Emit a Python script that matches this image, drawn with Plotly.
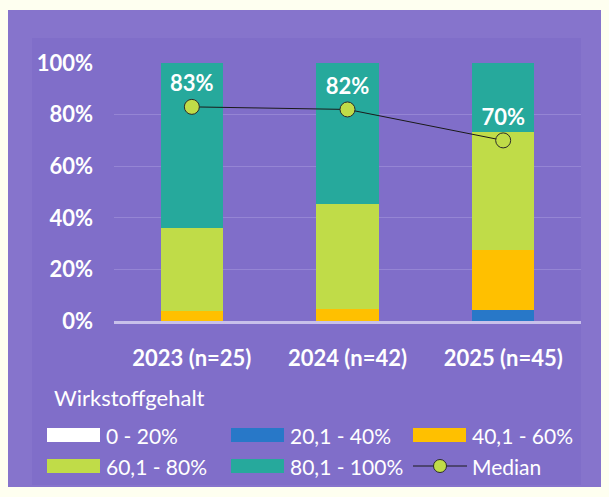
import plotly.graph_objects as go

# ---- data ----
categories = ["2023 (n=25)", "2024 (n=42)", "2025 (n=45)"]
series_names = ["0 - 20%", "20,1 - 40%", "40,1 - 60%", "60,1 - 80%", "80,1 - 100%"]
share_0_20 = [0, 0, 0]
share_20_40 = [0, 0, 4.4]
share_40_60 = [4.0, 4.8, 23.1]
share_60_80 = [32.0, 40.5, 45.9]
share_80_100 = [64.0, 54.7, 26.6]
median_values = [83, 82, 70]
median_labels = ["83%", "82%", "70%"]
y_ticks = [0, 20, 40, 60, 80, 100]
y_tick_labels = ["0%", "20%", "40%", "60%", "80%", "100%"]
legend_title = "Wirkstoffgehalt"
median_name = "Median"

series_values = [share_0_20, share_20_40, share_40_60, share_60_80, share_80_100]
colors = ["#FFFFFF", "#2878C8", "#FFC000", "#C0DC48", "#26A99C"]
marker_color = "#C0DC48"

OFF = 8  # page body margin: screen coordinate = figure coordinate + 8
W, H = 609, 497
L = 114 - OFF
T = 63 - OFF
R = W - (581 - OFF)
B = H - (321 - OFF)
PW, PH = W - L - R, H - T - B
FONT = "Lato"


def px(x):  # screen x -> paper
    return (x - OFF - L) / PW


def py(y):  # screen y -> paper
    return (H - B - (y - OFF)) / PH


fig = go.Figure()

for name, vals, col in zip(series_names, series_values, colors):
    fig.add_trace(go.Bar(
        x=categories, y=vals, name=name, width=0.4,
        marker=dict(color=col, line=dict(width=0)),
        showlegend=False,
    ))

fig.add_trace(go.Scatter(
    x=categories, y=median_values, name=median_name,
    mode="lines+markers+text", text=median_labels, textposition="top center",
    textfont=dict(family=FONT, size=22, color="white", weight="bold"),
    line=dict(color="#1a1a1a", width=1),
    marker=dict(size=15, color=marker_color, line=dict(color="#2a2a2a", width=1)),
    showlegend=False, cliponaxis=False,
))

shapes = []
annotations = []
# background panels
shapes.append(dict(type="rect", xref="paper", yref="paper", layer="below",
                   x0=px(8), x1=px(620), y0=py(487), y1=py(10),
                   fillcolor="#8674CC", line=dict(width=0)))
shapes.append(dict(type="rect", xref="paper", yref="paper", layer="below",
                   x0=px(32), x1=px(581), y0=py(485), y1=py(38),
                   fillcolor="#806EC9", line=dict(width=0)))

# manual legend
annotations.append(dict(xref="paper", yref="paper", x=px(52), y=py(397),
                        xanchor="left", yanchor="middle", showarrow=False,
                        text=legend_title,
                        font=dict(family=FONT, size=22, color="white")))
col_x = [47, 231, 413]
row_y = [435, 466]
entries = list(zip(series_names, colors)) + [(median_name, None)]
for i, (name, col) in enumerate(entries):
    cx = col_x[i % 3]
    cy = row_y[i // 3]
    if col is not None:
        shapes.append(dict(type="rect", xref="paper", yref="paper",
                           x0=px(cx), x1=px(cx + 53), y0=py(cy + 7), y1=py(cy - 7),
                           fillcolor=col, line=dict(width=0)))
    else:
        shapes.append(dict(type="line", xref="paper", yref="paper",
                           x0=px(cx), x1=px(cx + 54), y0=py(cy), y1=py(cy),
                           line=dict(color="#1a1a1a", width=1)))
        shapes.append(dict(type="circle", xref="paper", yref="paper",
                           x0=px(cx + 27 - 6.5), x1=px(cx + 27 + 6.5),
                           y0=py(cy + 6.5), y1=py(cy - 6.5),
                           fillcolor=marker_color, line=dict(color="#2a2a2a", width=1)))
    annotations.append(dict(xref="paper", yref="paper", x=px(cx + 57), y=py(cy),
                            xanchor="left", yanchor="middle", showarrow=False,
                            text=name,
                            font=dict(family=FONT, size=21, color="white")))

fig.update_layout(
    width=W, height=H,
    margin=dict(l=L, r=R, t=T, b=B, pad=0),
    paper_bgcolor="#FEFFF0",
    plot_bgcolor="rgba(0,0,0,0)",
    barmode="stack",
    bargap=0.6,
    shapes=shapes,
    annotations=annotations,
    showlegend=False,
    xaxis=dict(
        showgrid=False, showline=True, linecolor="#C8C0EA", linewidth=3,
        ticks="", ticklabelstandoff=16,
        tickfont=dict(family=FONT, size=22, color="white", weight="bold"),
        fixedrange=True,
    ),
    yaxis=dict(
        range=[0, 100], tickvals=y_ticks, ticktext=y_tick_labels,
        showgrid=True, gridcolor="#9585D4", gridwidth=1,
        zeroline=False, showline=False, ticks="", ticklabelstandoff=20,
        tickfont=dict(family=FONT, size=22, color="white", weight="bold"),
        fixedrange=True,
    ),
)

fig.write_html("out.html",
               post_script="document.body.style.background='#FEFFF0';")
